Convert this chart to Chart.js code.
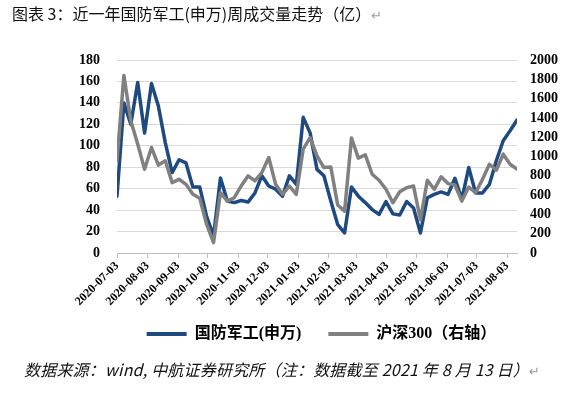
<!DOCTYPE html>
<html>
<head>
<meta charset="utf-8">
<script src="https://cdn.jsdelivr.net/npm/chart.js@4.4.1/dist/chart.umd.min.js"></script>
<style>
  html, body { margin: 0; padding: 0; background: #fff; }
  #wrap { position: relative; width: 572px; height: 394px; overflow: hidden; }
  #chartBox { position: absolute; left: 0; top: 0; width: 572px; height: 394px; }
  .title { position: absolute; left: 12px; top: 3px; font: 16px/20px 'Noto Sans CJK SC', sans-serif; color: #111; white-space: nowrap; }
  .foot { position: absolute; left: 24px; top: 359px; font: italic 16px/20px 'Noto Sans CJK SC', sans-serif; color: #111; white-space: nowrap; letter-spacing: 0.2px; }
  .ret { color: #999; font-style: normal; font-family: 'DejaVu Sans', sans-serif; font-size: 13px; }
</style>
</head>
<body>
<div id="wrap">
  <div id="chartBox"><canvas id="c" width="572" height="394"></canvas></div>
  <div class="title">图表 3：近一年国防军工(申万)周成交量走势（亿）<span class="ret">↵</span></div>
  <div class="foot">数据来源：wind, 中航证券研究所（注：数据截至 2021 年 8 月 13 日）<span class="ret">↵</span></div>
</div>
<script>
// Weekly dates (Fridays)
const weeks = [
  '2020-07-03','2020-07-10','2020-07-17','2020-07-24','2020-07-31',
  '2020-08-07','2020-08-14','2020-08-21','2020-08-28',
  '2020-09-04','2020-09-11','2020-09-18','2020-09-25',
  '2020-10-02','2020-10-09','2020-10-16','2020-10-23','2020-10-30',
  '2020-11-06','2020-11-13','2020-11-20','2020-11-27',
  '2020-12-04','2020-12-11','2020-12-18','2020-12-25',
  '2021-01-01','2021-01-08','2021-01-15','2021-01-22','2021-01-29',
  '2021-02-05','2021-02-12','2021-02-19','2021-02-26',
  '2021-03-05','2021-03-12','2021-03-19','2021-03-26',
  '2021-04-02','2021-04-09','2021-04-16','2021-04-23','2021-04-30',
  '2021-05-07','2021-05-14','2021-05-21','2021-05-28',
  '2021-06-04','2021-06-11','2021-06-18','2021-06-25',
  '2021-07-02','2021-07-09','2021-07-16','2021-07-23','2021-07-30',
  '2021-08-06','2021-08-13'
];

// 国防军工(申万) weekly turnover (亿), left axis
const defenseVol = [
  53, 140, 120, 159, 112, 158, 137, 103, 75,
  87, 84, 61.5, 61.5, 34, 16, 70, 48.5, 47,
  49, 47.5, 56, 72, 62.5, 59.5, 53, 72,
  64, 126.5, 112, 78, 72, 48.5, 26.5, 18.7,
  61.5, 53, 47, 40.5, 36, 48, 36.5, 35.5,
  48, 42, 18.7, 51.5, 54.7, 57, 54.7, 69.7,
  50, 79.7, 56, 56, 64, 86, 104.7, 114, 124
];

// 沪深300 weekly turnover (亿), right axis
const hs300Vol = [
  955, 1840, 1370, 1130, 867, 1093, 911, 955, 729,
  764, 712, 608, 567, 296, 108, 625, 538, 573,
  694, 799, 747, 833, 989, 712, 608, 694,
  608, 1077, 1195, 1007, 885, 892, 497, 434,
  1191, 983, 1018, 816, 754, 660, 521, 635,
  677, 694, 345, 754, 660, 789, 719, 705,
  538, 684, 625, 764, 920, 858, 1024, 920, 869
];

const tickLabels = [
  '2020-07-03','2020-08-03','2020-09-03','2020-10-03','2020-11-03','2020-12-03',
  '2021-01-03','2021-02-03','2021-03-03','2021-04-03','2021-05-03','2021-06-03',
  '2021-07-03','2021-08-03'
];

const seriesNames = ['国防军工(申万)', '沪深300（右轴）'];

const DAY = 86400000;
const t0 = Date.parse(weeks[0] + 'T00:00:00Z');
const dayOf = s => Math.round((Date.parse(s + 'T00:00:00Z') - t0) / DAY);
const xMax = dayOf(weeks[weeks.length - 1]);

const blue = '#1f4a7f';
const grey = '#808080';
const tickFont = { family: "'Liberation Serif', serif", weight: 'bold', size: 14 };

// move legend up into the space beside the rotated date labels
const legendShift = {
  id: 'legendShift',
  afterLayout(chart) {
    const lg = chart.legend;
    if (lg) { lg.top -= 14; lg.bottom -= 14; lg.left += 1; lg.right += 1; }
  }
};

new Chart(document.getElementById('c'), {
  type: 'line',
  data: {
    datasets: [
      {
        label: seriesNames[0],
        data: weeks.map((w, i) => ({ x: dayOf(w), y: defenseVol[i] })),
        borderColor: blue, backgroundColor: blue,
        borderWidth: 3.5, pointRadius: 0, pointStyle: 'line',
        pointBorderWidth: 4, pointBorderColor: blue,
        tension: 0, borderJoinStyle: 'round', borderCapStyle: 'round',
        yAxisID: 'y', order: 1
      },
      {
        label: seriesNames[1],
        data: weeks.map((w, i) => ({ x: dayOf(w), y: hs300Vol[i] })),
        borderColor: grey, backgroundColor: grey,
        borderWidth: 3.5, pointRadius: 0, pointStyle: 'line',
        pointBorderWidth: 4, pointBorderColor: grey,
        tension: 0, borderJoinStyle: 'round', borderCapStyle: 'round',
        yAxisID: 'y1', order: 0
      }
    ]
  },
  plugins: [legendShift],
  options: {
    responsive: false,
    animation: false,
    devicePixelRatio: 1,
    layout: { padding: { top: 60, left: 69, right: 0, bottom: 28 } },
    plugins: {
      tooltip: { enabled: false },
      title: { display: false },
      legend: {
        position: 'bottom',
        labels: {
          usePointStyle: true,
          pointStyleWidth: 40,
          boxHeight: 8,
          padding: 27,
          color: '#000',
          font: { family: "'Liberation Serif', 'Noto Sans CJK SC', serif", weight: 'bold', size: 16 },
          sort: (a, b) => a.datasetIndex - b.datasetIndex
        }
      }
    },
    scales: {
      x: {
        type: 'linear',
        min: 0, max: xMax,
        afterBuildTicks: s => { s.ticks = tickLabels.map(t => ({ value: dayOf(t) })); },
        afterFit: s => { s.height = 60; },
        ticks: {
          autoSkip: false, maxRotation: 45, minRotation: 45,
          padding: 1, color: '#000',
          font: { family: "'Liberation Serif', serif", weight: 'bold', size: 12 },
          callback: (v, i) => tickLabels[i]
        },
        grid: { drawOnChartArea: false, drawTicks: true, tickLength: 5, color: '#bfbfbf' },
        border: { display: true, color: '#bfbfbf' }
      },
      y: {
        position: 'left',
        min: 0, max: 180,
        afterFit: s => { s.width = 48; },
        ticks: { stepSize: 20, autoSkip: false, padding: 17, color: '#000', font: tickFont, callback: v => String(v) },
        grid: { color: '#d9d9d9', drawTicks: false },
        border: { display: false }
      },
      y1: {
        position: 'right',
        min: 0, max: 2000,
        afterFit: s => { s.width = 55; },
        ticks: { stepSize: 200, autoSkip: false, padding: 13, color: '#000', font: tickFont, callback: v => String(v) },
        grid: { drawOnChartArea: false, drawTicks: false },
        border: { display: false }
      }
    }
  }
});
</script>
</body>
</html>
